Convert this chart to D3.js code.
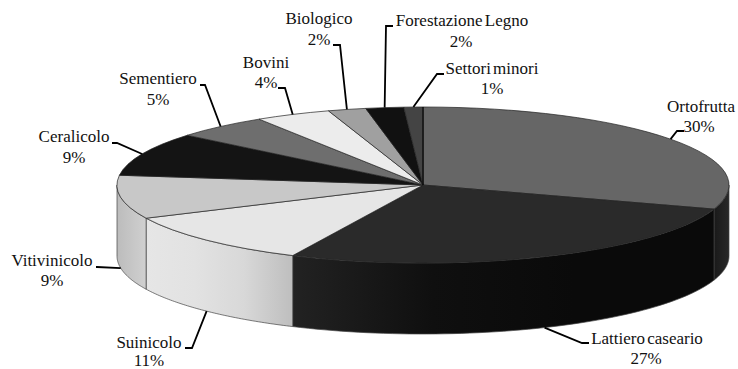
<!DOCTYPE html>
<html>
<head>
<meta charset="utf-8">
<script src="https://cdn.jsdelivr.net/npm/d3@7"></script>
<style>
html, body { margin: 0; padding: 0; background: #fff; }
text { font-family: "Liberation Serif", serif; font-size: 17px; fill: #111; text-anchor: middle; word-spacing: -2px; }
</style>
</head>
<body>
<div id="main"></div>
<script>
// chart values, clockwise from 12 o'clock
var sectors = ["Ortofrutta", "Lattiero caseario", "Suinicolo", "Vitivinicolo", "Ceralicolo",
               "Sementiero", "Bovini", "Biologico", "Forestazione Legno", "Settori minori"];
var shares = [30, 27, 11, 9, 9, 5, 4, 2, 2, 1];

var ctx = {
    w: 738,
    h: 369,
    cx: 423,
    cy: 185,
    rx: 306,
    ry: 78,
    depth: 71,
};

var topColors = ["#666666", "#2a2a2a", "#e6e6e6", "#c8c8c8", "#141414",
                 "#6e6e6e", "#ececec", "#a0a0a0", "#111111", "#444444"];
// wall gradient stops, left edge to right edge of each visible piece
var wallColors = {
    0: ["#1a1a1a", "#282828"],
    1: ["#222222", "#0f0f0f", "#0a0a0a", "#0a0a0a"],
    2: ["#e6e6e6", "#e2e2e2", "#d8d8d8", "#bebebe"],
    3: ["#bcbcbc", "#d0d0d0"],
};

// label placement: x, baselines, elbow and end of the leader
var layout = [
    {x: 701, x2: 699, y: 112, y2: 132, elbow: [677, 131], end: [684, 131]},
    {x: 647, x2: 646, y: 344, y2: 364, elbow: [582, 343], end: [589, 343], wall: true},
    {x: 149, x2: 149, y: 348, y2: 366, elbow: [192, 348], end: [185, 348], wall: true},
    {x: 52, x2: 52, y: 266, y2: 286, elbow: [97, 267], end: [96, 267], wall: true},
    {x: 74, x2: 74, y: 142, y2: 163, elbow: [117, 143], end: [112, 143]},
    {x: 158, x2: 158, y: 84, y2: 105, elbow: [205, 85], end: [200, 85]},
    {x: 266, x2: 266, y: 68, y2: 88, elbow: [285, 88], end: [278, 88]},
    {x: 319, x2: 319, y: 24, y2: 45, elbow: [340, 45], end: [333, 45]},
    {x: 462, x2: 461, y: 26, y2: 47, elbow: [386, 26], end: [393, 26]},
    {x: 492, x2: 492, y: 74, y2: 94, elbow: [437, 74], end: [444, 74]},
];

// clockwise angle from 12 o'clock to a point on the tilted rim
var rimX = function(a){ return ctx.cx + ctx.rx * Math.sin(a); };
var rimY = function(a){ return ctx.cy - ctx.ry * Math.cos(a); };

var createWalls = function(svgEl, slices){
    var defs = svgEl.append("defs");
    var line = d3.line();
    slices.forEach(function(s, i){
        // only the front half of the rim shows a wall
        var a0 = Math.max(s.startAngle, Math.PI / 2);
        var a1 = Math.min(s.endAngle, Math.PI * 1.5);
        if (a0 >= a1) return;
        var angles = d3.range(0, 61).map(function(k){ return a0 + (a1 - a0) * k / 60; });
        var upper = angles.map(function(a){ return [rimX(a), rimY(a)]; });
        var lower = angles.slice().reverse().map(function(a){ return [rimX(a), rimY(a) + ctx.depth]; });
        var grad = defs.append("linearGradient").attr("id", "wall" + i);
        // angles run right to left along the front, stops are listed left to right
        wallColors[i].forEach(function(c, k, all){
            grad.append("stop").attr("offset", k / (all.length - 1)).attr("stop-color", c);
        });
        svgEl.append("path")
            .attr("d", line(upper.concat(lower)) + "Z")
            .attr("fill", "url(#wall" + i + ")")
            .attr("stroke", "#444")
            .attr("stroke-width", 0.7);
    });
};

var createTop = function(svgEl, slices){
    var arc = d3.arc().innerRadius(0).outerRadius(ctx.rx);
    var g = svgEl.append("g")
        .attr("transform", "translate(" + ctx.cx + "," + ctx.cy + ") scale(1," + (ctx.ry / ctx.rx) + ")");
    g.selectAll("path").data(slices).enter().append("path")
        .attr("d", arc)
        .attr("fill", function(d, i){ return topColors[i]; })
        .attr("stroke", "#222")
        .attr("stroke-width", 0.7)
        .attr("vector-effect", "non-scaling-stroke");
    // the seam at 12 o'clock is darker than the others
    svgEl.append("line")
        .attr("x1", ctx.cx).attr("y1", ctx.cy)
        .attr("x2", rimX(0)).attr("y2", rimY(0))
        .attr("stroke", "#000")
        .attr("stroke-width", 1);
};

var createLabels = function(svgEl, slices){
    var line = d3.line();
    slices.forEach(function(s, i){
        var p = layout[i];
        var mid = (s.startAngle + s.endAngle) / 2;
        var start = [rimX(mid), rimY(mid) + (p.wall ? ctx.depth : 0)];
        svgEl.append("path")
            .attr("d", line([start, p.elbow, p.end]))
            .attr("fill", "none")
            .attr("stroke", "#000")
            .attr("stroke-width", 1.8);
        svgEl.append("text").attr("x", p.x).attr("y", p.y).text(sectors[i]);
        svgEl.append("text").attr("x", p.x2).attr("y", p.y2).text(shares[i] + "%");
    });
};

var createViz = function(){
    var svgEl = d3.select("#main").append("svg")
        .attr("width", ctx.w)
        .attr("height", ctx.h)
        .style("display", "block");
    var slices = d3.pie().sort(null)(shares);
    createWalls(svgEl, slices);
    createTop(svgEl, slices);
    createLabels(svgEl, slices);
};

createViz();
</script>
</body>
</html>
